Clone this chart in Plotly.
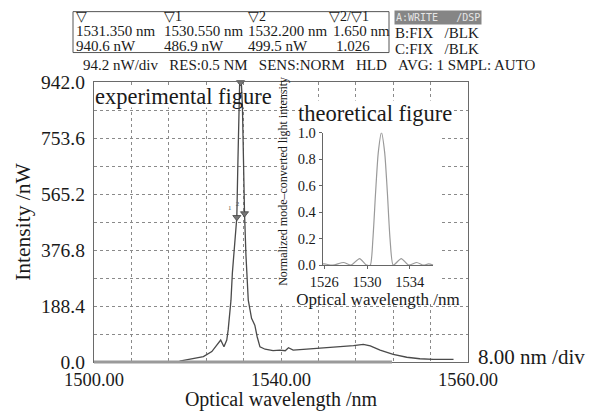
import plotly.graph_objects as go

# ---------------- data ----------------
# experimental spectrum (optical spectrum analyser trace)
exp_wl = [1518.3, 1519.5, 1521.2, 1523.4, 1525.2, 1526.2, 1527.1, 1527.8, 1528.4, 1528.7,
          1529.1, 1529.3, 1529.6, 1529.9, 1530.2, 1530.55, 1530.75, 1530.95, 1531.15, 1531.35,
          1531.55, 1531.75, 1531.95, 1532.2, 1532.5, 1532.75, 1533.0, 1533.7, 1534.4, 1534.9,
          1535.5, 1536.6, 1538.3, 1539.8, 1540.9, 1541.6, 1542.6, 1545.5, 1548.3, 1551.2,
          1553.3, 1555.5, 1557.6, 1559.1, 1561.2, 1564.0, 1566.9, 1569.7, 1572.6, 1576.9]
exp_nw = [3, 6, 11, 18, 35, 57, 74, 51, 74, 108,
          175, 208, 300, 360, 410, 486.9, 650, 880, 935, 940.6,
          930, 860, 640, 499.5, 360, 270, 208, 147, 124, 85,
          51, 43, 38, 40, 38, 48, 40, 43, 46, 48,
          51, 55, 59, 54, 40, 26, 16, 11, 9, 9]

# theoretical curve (inset)
th_wl = [1525.85, 1526.0, 1526.8, 1527.8, 1528.5, 1529.3, 1529.95, 1530.3, 1530.55, 1530.8,
         1531.05, 1531.35, 1531.65, 1531.9, 1532.15, 1532.45, 1533.2, 1533.9, 1534.65, 1535.3,
         1535.75, 1536.2]
th_int = [0.01, 0.01, 0.0, 0.02, 0.0, 0.05, 0.0, 0.0, 0.2, 0.55,
          0.85, 1.0, 0.85, 0.55, 0.2, 0.0, 0.05, 0.0, 0.02, 0.0,
          0.01, 0.0]

# OSA markers (peak, marker 1, marker 2)
mk_names = ["", "1", "2"]
mk_wl = [1531.35, 1530.55, 1532.20]
mk_nw = [940.6, 486.9, 499.5]

# axis ticks / labels
y_ticks = [0.0, 188.4, 376.8, 565.2, 753.6, 942.0]
y_div = 94.2
x_ticks = [1500, 1540, 1580]
x_ticktext = ["1500.00", "1540.00", "1560.00"]
x_div = 8.00
inset_x_ticks = [1526, 1530, 1534]
inset_y_ticks = [0.0, 0.2, 0.4, 0.6, 0.8, 1.0]

# ---------------- layout helpers ----------------
W, H = 597, 411
L, R, T, B = 94, 468, 81.5, 362.0


def px(xp):
    return (xp - L) / (R - L)


def py(yp):
    return (B - yp) / (B - T)


SERIF = "Liberation Serif, Times New Roman, serif"
INK = "#1a1a1a"
GRID = "#8a8a8a"

fig = go.Figure()

fig.add_trace(go.Scatter(x=exp_wl, y=exp_nw, mode="lines",
                         line=dict(color="#4a4a4a", width=1.3),
                         xaxis="x", yaxis="y", showlegend=False, cliponaxis=False))
fig.add_trace(go.Scatter(x=mk_wl, y=mk_nw, mode="markers+text",
                         text=mk_names, textposition="top left",
                         textfont=dict(family=SERIF, size=7, color="#555"),
                         marker=dict(symbol="triangle-down", size=7, color="#777",
                                     line=dict(color="#444", width=0.8)),
                         xaxis="x", yaxis="y", showlegend=False, cliponaxis=False))
fig.add_trace(go.Scatter(x=th_wl, y=th_int, mode="lines",
                         line=dict(color="#9a9a9a", width=1.2, shape="spline", smoothing=0.6),
                         xaxis="x2", yaxis="y2", showlegend=False, cliponaxis=False))

# ---------------- axes ----------------
fig.update_layout(
    width=W, height=H,
    margin=dict(l=L, r=W - R, t=T, b=H - B, autoexpand=False),
    paper_bgcolor="white", plot_bgcolor="white",
    font=dict(family=SERIF, color=INK),
    xaxis=dict(
        domain=[0, 1], range=[1500, 1500 + 10 * x_div],
        tickmode="array", tickvals=x_ticks, ticktext=x_ticktext,
        ticks="", tickfont=dict(family=SERIF, size=18.5, color=INK),
        ticklabelstandoff=1,
        showgrid=True, gridcolor=GRID, griddash="dot", gridwidth=1,
        minor=dict(tickmode="linear", tick0=1500, dtick=x_div, showgrid=True,
                   gridcolor=GRID, griddash="dot", gridwidth=1, ticks=""),
        showline=True, mirror=True, linecolor="#6a6a6a", linewidth=1.4,
        zeroline=False,
        title=dict(text="Optical wavelength /nm", font=dict(family=SERIF, size=20, color=INK),
                   standoff=5),
    ),
    yaxis=dict(
        domain=[0, 1], range=[0, 10 * y_div],
        tickmode="array", tickvals=y_ticks, tickformat=".1f",
        ticks="", tickfont=dict(family=SERIF, size=19.5, color=INK),
        ticklabelstandoff=4,
        showgrid=True, gridcolor=GRID, griddash="dot", gridwidth=1,
        minor=dict(tickmode="linear", tick0=0, dtick=y_div, showgrid=True,
                   gridcolor=GRID, griddash="dot", gridwidth=1, ticks=""),
        showline=True, mirror=True, linecolor="#6a6a6a", linewidth=1.4,
        zeroline=False,
        title=dict(text="Intensity /nW", font=dict(family=SERIF, size=21.5, color=INK),
                   standoff=4),
    ),
    xaxis2=dict(
        domain=[px(322.7), px(433.3)], anchor="y2", range=[1525.85, 1536.2],
        tickmode="array", tickvals=inset_x_ticks, ticks="outside", ticklen=3,
        tickcolor="#666", tickfont=dict(family=SERIF, size=14.5, color=INK),
        showgrid=False, zeroline=False, showline=True, linecolor="#666", linewidth=1,
        title=dict(text="Optical wavelength /nm", font=dict(family=SERIF, size=17, color=INK),
                   standoff=1),
    ),
    yaxis2=dict(
        domain=[py(265), py(132.3)], anchor="x2", range=[0, 1.0],
        tickmode="array", tickvals=inset_y_ticks, tickformat=".1f",
        ticks="outside", ticklen=3, tickcolor="#666",
        tickfont=dict(family=SERIF, size=14.5, color=INK),
        showgrid=False, zeroline=False, showline=True, linecolor="#666", linewidth=1,
    ),
)

# white areas that hide the grid behind the labels / inset
fig.add_shape(type="rect", xref="x", yref="y", layer="between",
              x0=1500, x1=1500 + (273 - L) * 10 * x_div / (R - L),
              y0=(B - 107) * 10 * y_div / (B - T), y1=(B - 86) * 10 * y_div / (B - T),
              fillcolor="white", line=dict(width=0))
fig.add_shape(type="rect", xref="x", yref="y", layer="between",
              x0=1500 + (277 - L) * 10 * x_div / (R - L), x1=1500 + (440 - L) * 10 * x_div / (R - L),
              y0=(B - 304) * 10 * y_div / (B - T), y1=(B - 112) * 10 * y_div / (B - T),
              fillcolor="white", line=dict(width=0))
# thick trace along bottom axis
fig.add_shape(type="line", xref="paper", yref="paper", x0=0, x1=px(392), y0=0, y1=0,
              line=dict(color="#9a9a9a", width=3), layer="above")

# header box
fig.add_shape(type="rect", xref="paper", yref="paper",
              x0=px(73), x1=px(389), y0=py(52), y1=py(11),
              line=dict(color="#555", width=1), fillcolor="rgba(0,0,0,0)")


def ann(text, xp, yp, size, xanchor="left", yanchor="middle", **kw):
    fig.add_annotation(text=text, x=px(xp), y=py(yp), xref="paper", yref="paper",
                       xanchor=xanchor, yanchor=yanchor, showarrow=False,
                       font=dict(family=kw.pop("family", SERIF), size=size,
                                 color=kw.pop("color", INK)), **kw)


col_x = [73.5, 162, 246]
head_labels = ["\u25bd", "\u25bd1", "\u25bd2"]
for i in range(3):
    ann(head_labels[i], col_x[i], 16, 14)
    ann(f"{mk_wl[i]:.3f} nm", col_x[i], 30, 15)
    ann(f"{mk_nw[i]:.1f} nW", col_x[i], 45, 15)
ann("\u25bd2/\u25bd1", 327, 16, 14)
ann(f"{mk_wl[2] - mk_wl[1]:.3f} nm", 331, 30, 15)
ann(f"{mk_nw[2] / mk_nw[1]:.3f}", 334, 45, 15)

ann("A:WRITE\u00a0\u00a0\u00a0/DSP", 393.5, 17, 10, family="DejaVu Sans Mono",
    color="#e6e6e6", bgcolor="#858585", borderpad=1)
ann("B:FIX\u00a0\u00a0\u00a0/BLK", 392.5, 32, 15)
ann("C:FIX\u00a0\u00a0\u00a0/BLK", 392.5, 48, 15)

sp = "\u00a0\u00a0\u00a0"
ann(f"{y_div:.1f} nW/div{sp}RES:0.5 NM{sp}SENS:NORM{sp}HLD{sp}AVG: 1 SMPL: AUTO", 81, 64, 15)

ann(f"{x_div:.2f} nm /div", 476, 357, 21)

ann("experimental figure", 93, 96, 22.5)
ann("theoretical figure", 297, 113, 22.5, bgcolor="white", borderpad=0)
ann("Normalized mode\u2013converted light intensity", 283, 181.5, 12,
    xanchor="center", textangle=-90)

fig.write_html("out.html", config={"displayModeBar": False},
               post_script="document.body.style.margin='0px';document.body.style.overflow='hidden';")
